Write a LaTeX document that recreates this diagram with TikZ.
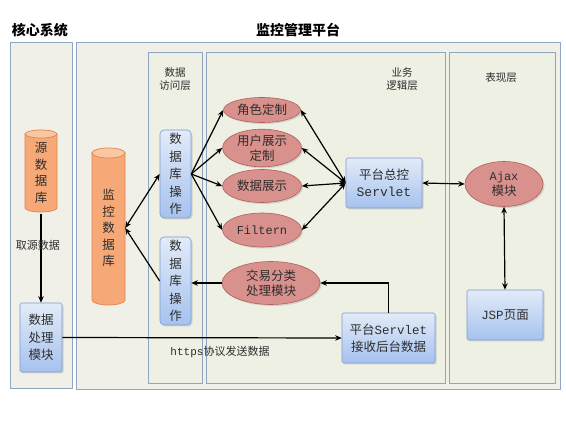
\documentclass[tikz,border=0pt]{standalone}
\usepackage{fontspec}
\setmainfont{Noto Sans CJK SC}
\newfontfamily\latmono{Liberation Mono}
\usetikzlibrary{shapes.geometric,arrows.meta,shadows}
\definecolor{pfill}{HTML}{F0EFE8}
\definecolor{lfill}{HTML}{EDF0E3}
\definecolor{pborder}{HTML}{8FA5C0}
\definecolor{efill}{HTML}{D8918D}
\definecolor{eborder}{HTML}{B2605C}
\definecolor{btop}{HTML}{E2EBF8}
\definecolor{bbot}{HTML}{A6C2EE}
\definecolor{bborder}{HTML}{7D9BCE}
\definecolor{cfill}{HTML}{F7A877}
\definecolor{ctop}{HTML}{FAC7A3}
\definecolor{cborder}{HTML}{E0864C}
\definecolor{txt}{HTML}{2E2E2E}
\begin{document}
\begin{tikzpicture}[x=1pt,y=-1pt,
  panel/.style={draw=pborder, fill=pfill, line width=0.9pt},
  layer/.style={draw=pborder, fill=lfill, line width=0.9pt},
  titletext/.style={font=\fontsize{14}{16}\selectfont\bfseries, text=black},
  layertext/.style={font=\fontsize{10.5}{13}\selectfont, text=txt, align=center},
  bluebox/.style={draw=bborder, line width=0.6pt, top color=btop, bottom color=bbot,
    rounded corners=1.5pt, inner sep=0pt, align=center, text=txt,
    font=\fontsize{12.5}{17.5}\selectfont,
    drop shadow={shadow xshift=1.5pt, shadow yshift=-1.5pt, opacity=0.25}},
  oval/.style={ellipse, draw=eborder, line width=0.6pt, fill=efill, inner sep=0pt,
    align=center, text=txt, font=\fontsize{12.5}{15}\selectfont,
    drop shadow={shadow xshift=1.5pt, shadow yshift=-1.5pt, opacity=0.25}},
  cyltext/.style={inner sep=0pt, align=center, text=txt, font=\fontsize{12.5}{16.5}\selectfont},
  cylbody/.style={fill=cfill, draw=cborder, line width=0.7pt},
  cyltopface/.style={fill=ctop, draw=cborder, line width=0.7pt},
  arr/.style={-{Stealth[length=6.5pt,width=5.5pt]}, line width=1.2pt, black},
  arrtwo/.style={{Stealth[length=6.5pt,width=5.5pt]}-{Stealth[length=6.5pt,width=5.5pt]}, line width=1.2pt, black},
  labeltext/.style={font=\fontsize{11}{13}\selectfont, text=txt}
]
\useasboundingbox (0,0) rectangle (566,433);
\fill[white] (0,0) rectangle (566,433);

% panels
\draw[panel] (10,42) rectangle (72,388);
\draw[panel] (76,42) rectangle (560,389);
\draw[layer] (148,52) rectangle (202,383);
\draw[layer] (206,52) rectangle (445,383);
\draw[layer] (449,52) rectangle (555,383);

% titles
\node[titletext] (t1) at (40,30) {核心系统};
\node[titletext] (t2) at (298,30) {监控管理平台};
\node[layertext] (l1) at (175,79) {数据\\访问层};
\node[layertext] (l2) at (402,79) {业务\\逻辑层};
\node[layertext] (l3) at (501,78) {表现层};

% cylinders
\fill[cylbody] (25,134) -- (25,208) arc[start angle=180,end angle=0,x radius=16,y radius=4] -- (57,134) -- cycle;
\draw[cyltopface] (41,134) ellipse[x radius=16, y radius=4];
\node[cyltext, minimum width=32pt, minimum height=82pt] (src) at (41,173) {源\\数\\据\\库};

\fill[cylbody] (92,153) -- (92,300) arc[start angle=180,end angle=0,x radius=16.5,y radius=5] -- (125,153) -- cycle;
\draw[cyltopface] (108.5,153) ellipse[x radius=16.5, y radius=5];
\node[cyltext, minimum width=33pt, minimum height=157pt] (mon) at (108.5,228) {监\\控\\数\\据\\库};

% boxes
\node[bluebox, minimum width=42pt, minimum height=69pt] (proc) at (41,337.5) {数据\\处理\\模块};
\node[bluebox, rounded corners=4pt, minimum width=31pt, minimum height=88pt] (op1) at (175.5,174) {数\\据\\库\\操\\作};
\node[bluebox, rounded corners=4pt, minimum width=31pt, minimum height=88pt] (op2) at (175.5,281) {数\\据\\库\\操\\作};
\node[bluebox, minimum width=76pt, minimum height=50pt] (ctrl) at (384,183) {平台总控\\{\latmono\fontsize{13}{17}\selectfont Servlet}};
\node[bluebox, minimum width=93pt, minimum height=50pt, font=\fontsize{12.5}{17}\selectfont] (recv) at (388.5,338) {平台{\latmono\fontsize{12.5}{17}\selectfont Servlet}\\接收后台数据};
\node[bluebox, minimum width=76pt, minimum height=50pt] (jsp) at (505,315) {{\latmono\fontsize{12.5}{17}\selectfont JSP}页面};

% ellipses
\node[oval, minimum width=77pt, minimum height=25pt] (e1) at (262,110) {角色定制};
\node[oval, minimum width=79pt, minimum height=36pt, font=\fontsize{12.5}{15}\selectfont] (e2) at (262,148) {用户展示\\定制};
\node[oval, minimum width=79pt, minimum height=33pt] (e3) at (262,186) {数据展示};
\node[oval, minimum width=79pt, minimum height=34pt] (e4) at (262,230) {{\latmono\fontsize{12}{15}\selectfont Filtern}};
\node[oval, minimum width=98pt, minimum height=43pt] (e5) at (271,283) {交易分类\\处理模块};
\node[oval, minimum width=78pt, minimum height=45pt] (ajax) at (504,184) {{\latmono\fontsize{12}{15}\selectfont Ajax}\\模块};

% connectors
\draw[arr] (src.south) -- (proc.north);
\node[labeltext] (lab1) at (38,245) {取源数据};
\draw[arrtwo] (op1.west) -- (mon.east);
\draw[arr] (op2.west) -- (mon.east);
\foreach \e in {e1,e2,e3,e4} {
  \draw[arr] (op1.east) -- (\e.west);
  \draw[arrtwo] (ctrl.west) -- (\e.east);
}
\draw[arrtwo] (ctrl.east) -- (ajax.west);
\draw[arrtwo] (ajax.south) -- (jsp.north);
\draw[arr] (recv.north) |- (e5.east);
\draw[arr] (e5.west) -- (op2.east |- e5.west);
\draw[arr] (proc.east) -- (recv.west);
\node[labeltext] (lab2) at (220,352) {{\latmono\fontsize{11}{13}\selectfont https}协议发送数据};
\end{tikzpicture}
\end{document}
